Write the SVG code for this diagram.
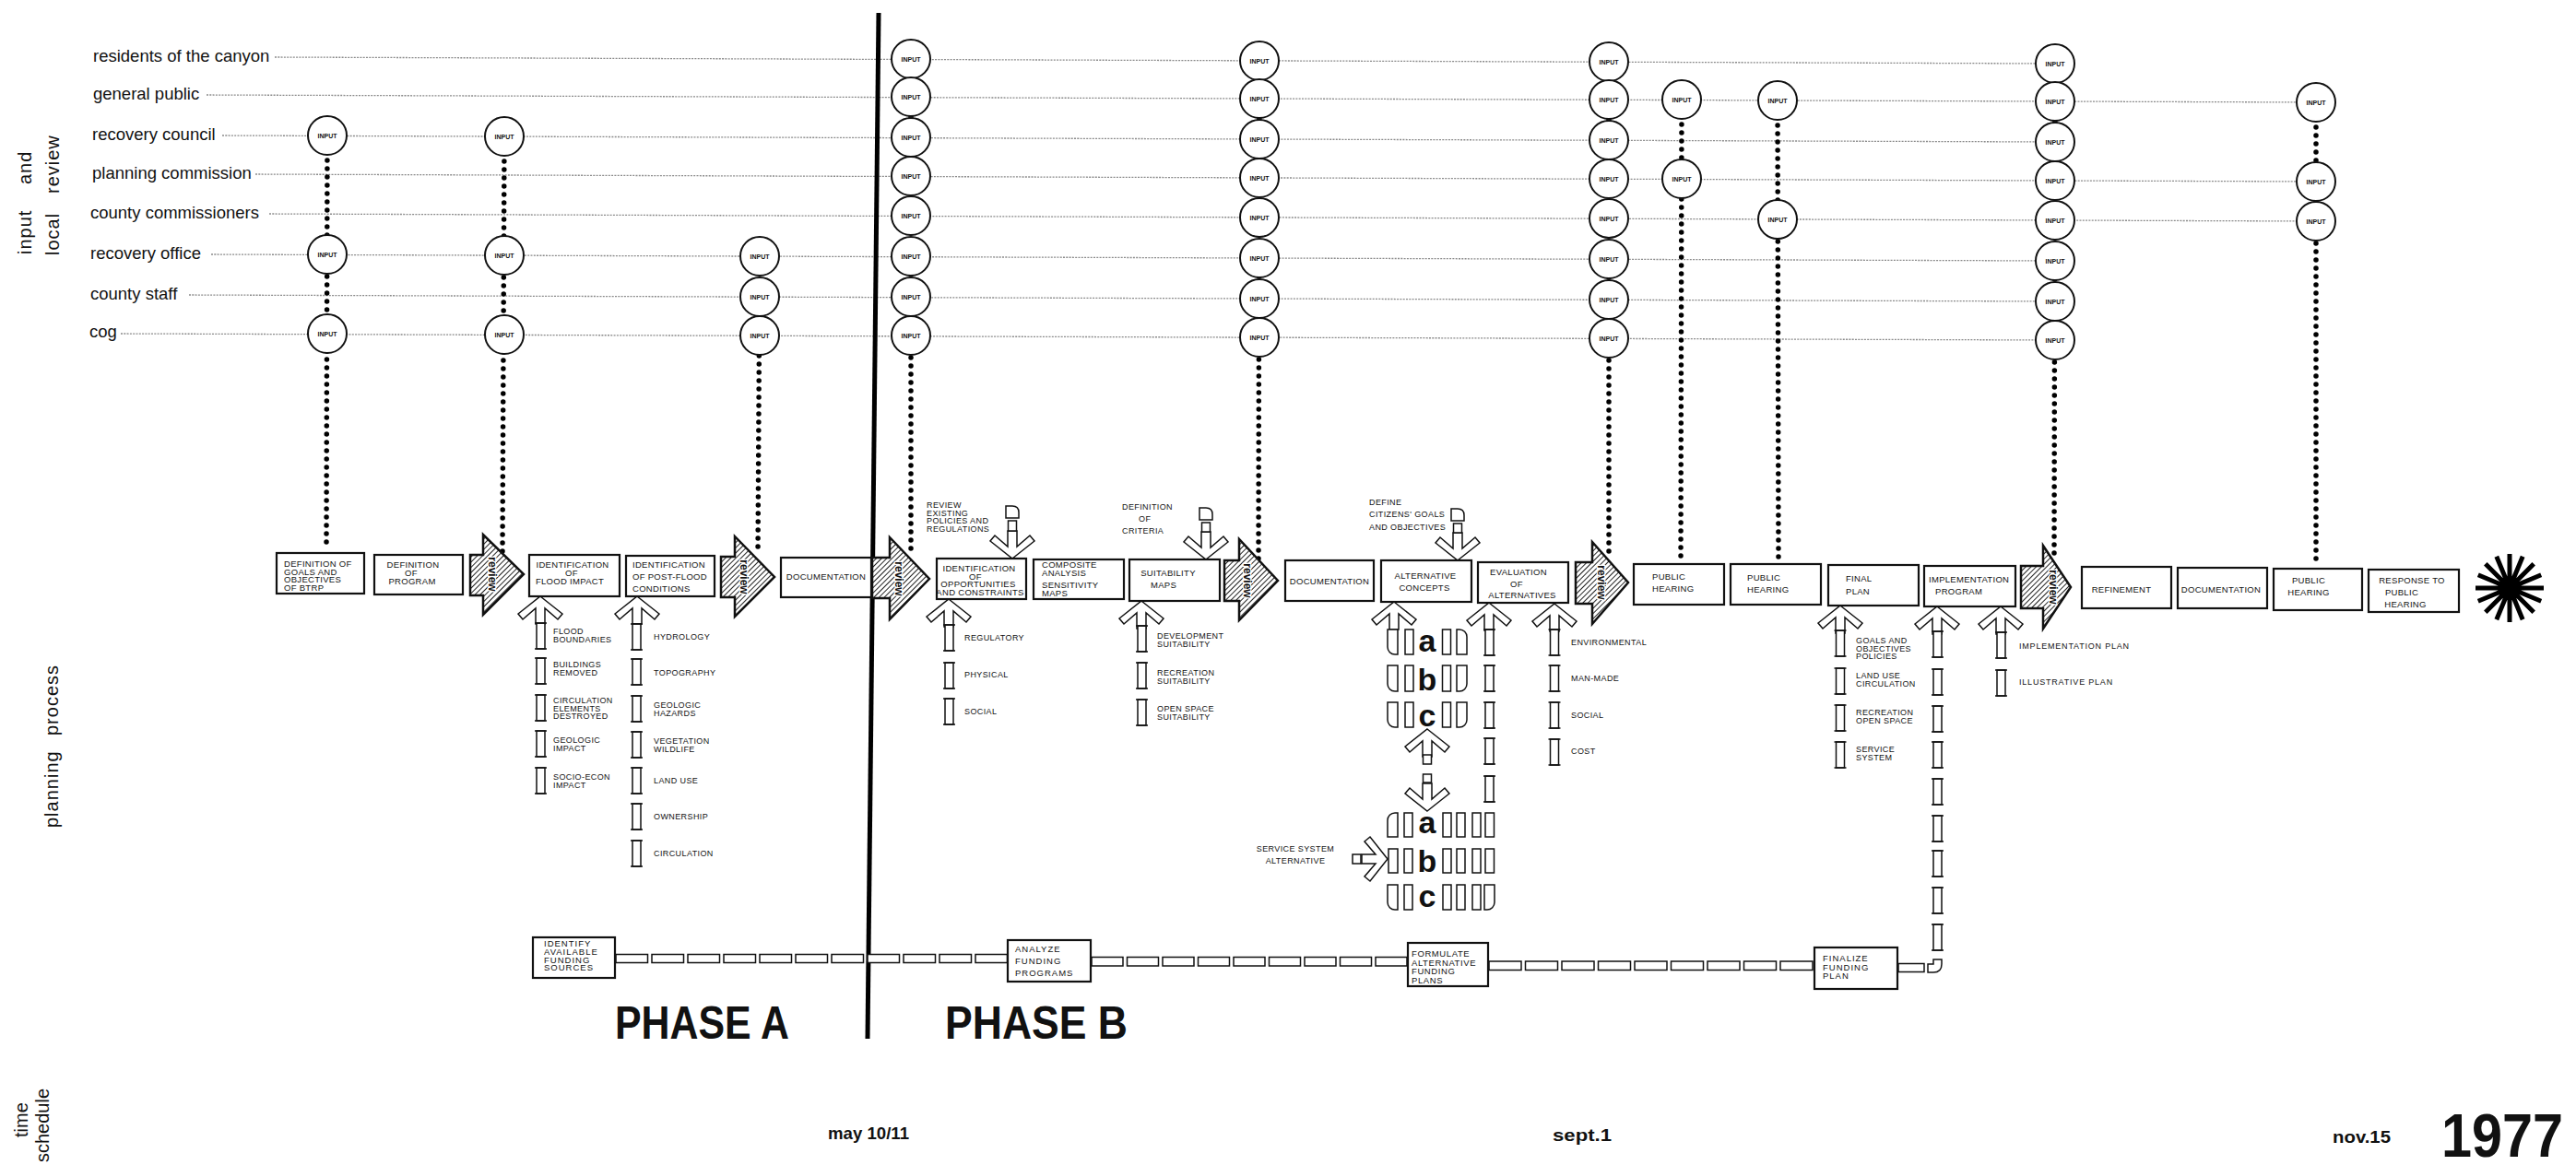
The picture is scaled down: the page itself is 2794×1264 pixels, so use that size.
<svg xmlns="http://www.w3.org/2000/svg" xmlns:xlink="http://www.w3.org/1999/xlink" width="2794" height="1264" viewBox="0 0 2794 1264">
<style>
text{font-family:"Liberation Sans",Arial,sans-serif;fill:#111}
.lbl{font-size:18.5px}
.side{font-size:20px;letter-spacing:1px}
.bt{font-size:9.5px;letter-spacing:.3px}
.it{font-size:9px;letter-spacing:.4px}
.ft{font-size:9.5px;letter-spacing:1px}
.inpt{font-size:7px;font-weight:bold;text-anchor:middle}
.mid{text-anchor:middle}
.box{fill:#fff;stroke:#111;stroke-width:2.2}
.rline{stroke:#8a8a8a;stroke-width:1.3;stroke-dasharray:2 1.3;fill:none}
.dots{stroke:#000;stroke-width:5.5;stroke-linecap:round;stroke-dasharray:0 9;fill:none}
.pipe{fill:#fff;stroke:#111;stroke-width:1.5}
.rev{fill:url(#hatch);stroke:#111;stroke-width:2.5}
.revt{font-size:12px;font-weight:bold;text-anchor:middle;dominant-baseline:central;paint-order:stroke;stroke:#fff;stroke-width:2.5px}
.abc{font-size:34px;font-weight:bold;text-anchor:middle}
.big{font-family:"Liberation Sans Narrow","Liberation Sans",Arial,sans-serif;font-weight:bold}
</style>
<defs>
<pattern id="hatch" width="4" height="4" patternUnits="userSpaceOnUse" patternTransform="rotate(45)"><rect width="4" height="4" fill="#fff"/><line x1="0" y1="0" x2="0" y2="4" stroke="#222" stroke-width="2"/></pattern>
<g id="inp"><circle r="21" fill="#fff" stroke="#111" stroke-width="2"/><text y="2.5" class="inpt">INPUT</text></g>
<polygon id="up" class="pipe" points="0,0 24,19 19,25 5,13 5,30 -5,30 -5,13 -19,25 -24,19"/>
<polygon id="dn" class="pipe" points="0,0 24,-19 19,-25 5,-13 5,-30 -5,-30 -5,-13 -19,-25 -24,-19"/>
<g id="bar"><rect x="-4.5" y="0" width="9" height="28" fill="#fff" stroke="#111" stroke-width="1.5"/><path d="M-6.5,0H6.5M-6.5,28H6.5" stroke="#111" stroke-width="1.5"/></g>
</defs>

<rect width="2794" height="1264" fill="#fff"/>

<!-- side labels -->
<g id="side-labels">
<text class="side" transform="translate(34,276) rotate(-90)"><tspan x="0">input</tspan><tspan x="76">and</tspan></text>
<text class="side" transform="translate(64,277) rotate(-90)"><tspan x="0">local</tspan><tspan x="67">review</tspan></text>
<text class="side" transform="translate(63,898) rotate(-90)"><tspan x="0">planning</tspan><tspan x="100">process</tspan></text>
<text class="side" style="letter-spacing:0" transform="translate(30,1234) rotate(-90)">time</text>
<text class="side" style="letter-spacing:0" transform="translate(53,1261) rotate(-90)">schedule</text>
</g>

<!-- participant rows -->
<g id="row-labels">
<text class="lbl" x="101" y="67">residents of the canyon</text>
<text class="lbl" x="101" y="108">general public</text>
<text class="lbl" x="100" y="152">recovery council</text>
<text class="lbl" x="100" y="194">planning commission</text>
<text class="lbl" x="98" y="237">county commissioners</text>
<text class="lbl" x="98" y="281">recovery office</text>
<text class="lbl" x="98" y="325">county staff</text>
<text class="lbl" x="97" y="366">cog</text>
</g>

<g id="connectors">
<g id="row-lines">
<line class="rline" x1="298" y1="62" x2="2229" y2="69"/>
<line class="rline" x1="224" y1="103" x2="2512" y2="111"/>
<line class="rline" x1="241" y1="147" x2="2229" y2="154"/>
<line class="rline" x1="277" y1="189" x2="2512" y2="197"/>
<line class="rline" x1="292" y1="232" x2="2512" y2="240"/>
<line class="rline" x1="229" y1="276" x2="2229" y2="283"/>
<line class="rline" x1="205" y1="320" x2="2229" y2="327"/>
<line class="rline" x1="131" y1="362" x2="2229" y2="369"/>
</g>
<g id="input-dots">
<line class="dots" x1="355" y1="147" x2="354" y2="594"/>
<line class="dots" x1="547" y1="148" x2="545" y2="598"/>
<line class="dots" x1="824" y1="278" x2="822" y2="601"/>
<line class="dots" x1="988" y1="64" x2="988" y2="604"/>
<line class="dots" x1="1366" y1="66" x2="1365" y2="606"/>
<line class="dots" x1="1745" y1="67" x2="1745" y2="606"/>
<line class="dots" x1="1824" y1="108" x2="1823" y2="610"/>
<line class="dots" x1="1928" y1="109" x2="1929" y2="610"/>
<line class="dots" x1="2229" y1="69" x2="2228" y2="604"/>
<line class="dots" x1="2512" y1="111" x2="2512" y2="615"/>
</g>
</g>

<g id="inputs">
<use id="in-1-3" href="#inp" x="355" y="147"/><use id="in-1-6" href="#inp" x="355" y="276"/><use id="in-1-8" href="#inp" x="355" y="362"/>
<use id="in-2-3" href="#inp" x="547" y="148"/><use id="in-2-6" href="#inp" x="547" y="277"/><use id="in-2-8" href="#inp" x="547" y="363"/>
<use id="in-3-6" href="#inp" x="824" y="278"/><use id="in-3-7" href="#inp" x="824" y="322"/><use id="in-3-8" href="#inp" x="824" y="364"/>
<use id="in-4-1" href="#inp" x="988" y="64"/><use id="in-4-2" href="#inp" x="988" y="105"/><use id="in-4-3" href="#inp" x="988" y="149"/><use id="in-4-4" href="#inp" x="988" y="191"/><use id="in-4-5" href="#inp" x="988" y="234"/><use id="in-4-6" href="#inp" x="988" y="278"/><use id="in-4-7" href="#inp" x="988" y="322"/><use id="in-4-8" href="#inp" x="988" y="364"/>
<use id="in-5-1" href="#inp" x="1366" y="66"/><use id="in-5-2" href="#inp" x="1366" y="107"/><use id="in-5-3" href="#inp" x="1366" y="151"/><use id="in-5-4" href="#inp" x="1366" y="193"/><use id="in-5-5" href="#inp" x="1366" y="236"/><use id="in-5-6" href="#inp" x="1366" y="280"/><use id="in-5-7" href="#inp" x="1366" y="324"/><use id="in-5-8" href="#inp" x="1366" y="366"/>
<use id="in-6-1" href="#inp" x="1745" y="67"/><use id="in-6-2" href="#inp" x="1745" y="108"/><use id="in-6-3" href="#inp" x="1745" y="152"/><use id="in-6-4" href="#inp" x="1745" y="194"/><use id="in-6-5" href="#inp" x="1745" y="237"/><use id="in-6-6" href="#inp" x="1745" y="281"/><use id="in-6-7" href="#inp" x="1745" y="325"/><use id="in-6-8" href="#inp" x="1745" y="367"/>
<use id="in-7-2" href="#inp" x="1824" y="108"/><use id="in-7-4" href="#inp" x="1824" y="194"/>
<use id="in-8-2" href="#inp" x="1928" y="109"/><use id="in-8-5" href="#inp" x="1928" y="238"/>
<use id="in-9-1" href="#inp" x="2229" y="69"/><use id="in-9-2" href="#inp" x="2229" y="110"/><use id="in-9-3" href="#inp" x="2229" y="154"/><use id="in-9-4" href="#inp" x="2229" y="196"/><use id="in-9-5" href="#inp" x="2229" y="239"/><use id="in-9-6" href="#inp" x="2229" y="283"/><use id="in-9-7" href="#inp" x="2229" y="327"/><use id="in-9-8" href="#inp" x="2229" y="369"/>
<use id="in-10-2" href="#inp" x="2512" y="111"/><use id="in-10-4" href="#inp" x="2512" y="197"/><use id="in-10-5" href="#inp" x="2512" y="240"/>
</g>

<!-- phase divider -->
<line id="phase-line" x1="953" y1="14" x2="941" y2="1127" stroke="#000" stroke-width="5"/>

<!-- input pipes / arrows -->
<g id="feeds">
<use href="#up" x="586" y="647"/><use href="#up" x="691" y="647"/><use href="#up" x="1029" y="650"/><use href="#up" x="1238" y="652"/>
<use href="#up" x="1512" y="653"/><use href="#up" x="1615" y="654"/><use href="#up" x="1686" y="655"/><use href="#up" x="1996" y="657"/>
<use href="#up" x="2101" y="658"/><use href="#up" x="2170" y="658"/>
<use href="#dn" x="1098" y="606"/><use href="#dn" x="1308" y="607"/><use href="#dn" x="1581" y="608"/>
<path class="pipe" d="M1091,562V549H1098Q1105,549 1105,556V562Z"/><rect class="pipe" x="1093.5" y="565" width="9" height="11"/>
<path class="pipe" d="M1301,564V551H1308Q1315,551 1315,558V564Z"/><rect class="pipe" x="1303.5" y="567" width="9" height="10"/>
<path class="pipe" d="M1574,565V552H1581Q1588,552 1588,559V565Z"/><rect class="pipe" x="1576.5" y="568" width="9" height="10"/>
<!-- flood impact -->
<use href="#bar" x="586.5" y="676"/><use href="#bar" x="586.5" y="714"/><use href="#bar" x="586.5" y="754"/><use href="#bar" x="586.5" y="793"/><use href="#bar" x="586.5" y="833"/>
<!-- post flood -->
<use href="#bar" x="690.5" y="677"/><use href="#bar" x="690.5" y="715"/><use href="#bar" x="690.5" y="755"/><use href="#bar" x="690.5" y="794"/><use href="#bar" x="690.5" y="833"/><use href="#bar" x="690.5" y="872"/><use href="#bar" x="690.5" y="912"/>
<!-- opportunities -->
<use href="#bar" x="1029.5" y="678"/><use href="#bar" x="1029.5" y="719"/><use href="#bar" x="1029.5" y="758"/>
<!-- suitability -->
<use href="#bar" x="1238.5" y="679"/><use href="#bar" x="1238.5" y="719"/><use href="#bar" x="1238.5" y="759"/>
<!-- evaluation column -->
<use href="#bar" x="1615.5" y="683"/><use href="#bar" x="1615.5" y="722"/><use href="#bar" x="1615.5" y="762"/><use href="#bar" x="1615.5" y="801"/><use href="#bar" x="1615.5" y="842"/>
<use href="#bar" x="1686" y="683"/><use href="#bar" x="1686" y="722"/><use href="#bar" x="1686" y="762"/><use href="#bar" x="1686" y="802"/>
<!-- final plan -->
<use href="#bar" x="1996" y="684"/><use href="#bar" x="1996" y="725"/><use href="#bar" x="1996" y="765"/><use href="#bar" x="1996" y="805"/>
<!-- implementation -->
<use href="#bar" x="2101.5" y="685"/><use href="#bar" x="2101.5" y="726"/><use href="#bar" x="2101.5" y="766"/><use href="#bar" x="2101.5" y="805"/><use href="#bar" x="2101.5" y="845"/><use href="#bar" x="2101.5" y="885"/><use href="#bar" x="2101.5" y="923"/><use href="#bar" x="2101.5" y="963"/><use href="#bar" x="2101.5" y="1003"/>
<use href="#bar" x="2170.5" y="686"/><use href="#bar" x="2170.5" y="727"/>
<!-- alternatives matrix 1 -->
<path class="pipe" d="M1516,683V710H1513A8,8 0 0 1 1505,702V683Z"/><rect class="pipe" x="1524" y="683" width="9" height="27"/><rect class="pipe" x="1564.5" y="683" width="9" height="27"/><path class="pipe" d="M1580,683H1583A8,8 0 0 1 1591,691V710H1580Z"/>
<path class="pipe" d="M1516,722V750H1513A8,8 0 0 1 1505,742V722Z"/><rect class="pipe" x="1524" y="722" width="9" height="28"/><rect class="pipe" x="1564.5" y="722" width="9" height="28"/><path class="pipe" d="M1580,722H1591V742A8,8 0 0 1 1583,750H1580Z"/>
<path class="pipe" d="M1516,762V789H1513A8,8 0 0 1 1505,781V762Z"/><rect class="pipe" x="1524" y="762" width="9" height="27"/><rect class="pipe" x="1564.5" y="762" width="9" height="27"/><path class="pipe" d="M1580,762H1591V781A8,8 0 0 1 1583,789H1580Z"/>
<use href="#up" x="1548" y="791"/>
<rect class="pipe" x="1543.5" y="819" width="9" height="10"/><rect class="pipe" x="1543.5" y="840" width="9" height="9"/>
<use href="#dn" x="1548" y="880"/>
<!-- alternatives matrix 2 -->
<path class="pipe" d="M1505,890A8,8 0 0 1 1513,882H1516V908H1505Z"/><rect class="pipe" x="1523" y="882" width="9" height="26"/><rect class="pipe" x="1565" y="882" width="9" height="26"/><rect class="pipe" x="1580" y="882" width="9" height="26"/><rect class="pipe" x="1597" y="882" width="9" height="26"/><rect class="pipe" x="1611" y="882" width="9.5" height="26"/>
<rect class="pipe" x="1506" y="921" width="10" height="26"/><rect class="pipe" x="1523" y="921" width="9" height="26"/><rect class="pipe" x="1565" y="921" width="9" height="26"/><rect class="pipe" x="1580" y="921" width="9" height="26"/><rect class="pipe" x="1597" y="921" width="9" height="26"/><rect class="pipe" x="1611" y="921" width="9.5" height="26"/>
<path class="pipe" d="M1516,960V987H1513A8,8 0 0 1 1505,979V960Z"/><rect class="pipe" x="1523" y="960" width="9" height="27"/><rect class="pipe" x="1565" y="960" width="9" height="27"/><rect class="pipe" x="1580" y="960" width="9" height="27"/><rect class="pipe" x="1597" y="960" width="9" height="27"/><path class="pipe" d="M1610,960H1621V979A8,8 0 0 1 1613,987H1610Z"/>
<!-- service system arrow -->
<rect class="pipe" x="1467" y="927" width="9" height="10"/>
<polygon class="pipe" points="1505,932 1486,908 1480,913 1492,927 1477,927 1477,937 1492,937 1480,951 1486,956"/>
<!-- funding pipe -->
<rect class="pipe" x="668" y="1035.5" width="34.5" height="9"/><rect class="pipe" x="707" y="1035.5" width="34.5" height="9"/><rect class="pipe" x="746" y="1035.5" width="34.5" height="9"/><rect class="pipe" x="785" y="1035.5" width="34.5" height="9"/><rect class="pipe" x="824" y="1035.5" width="34.5" height="9"/><rect class="pipe" x="863" y="1035.5" width="34.5" height="9"/><rect class="pipe" x="902" y="1035.5" width="34.5" height="9"/><rect class="pipe" x="941" y="1035.5" width="34.5" height="9"/><rect class="pipe" x="980" y="1035.5" width="34.5" height="9"/><rect class="pipe" x="1019" y="1035.5" width="34.5" height="9"/><rect class="pipe" x="1058" y="1035.5" width="34.5" height="9"/>
<rect class="pipe" x="1184" y="1038.5" width="34" height="9.5"/><rect class="pipe" x="1222.5" y="1038.5" width="34" height="9.5"/><rect class="pipe" x="1261" y="1038.5" width="34" height="9.5"/><rect class="pipe" x="1299.5" y="1038.5" width="34" height="9.5"/><rect class="pipe" x="1338" y="1038.5" width="34" height="9.5"/><rect class="pipe" x="1376.5" y="1038.5" width="34" height="9.5"/><rect class="pipe" x="1415" y="1038.5" width="34" height="9.5"/><rect class="pipe" x="1453.5" y="1038.5" width="34" height="9.5"/><rect class="pipe" x="1492" y="1038.5" width="34" height="9.5"/>
<rect class="pipe" x="1615" y="1043" width="35" height="9.5"/><rect class="pipe" x="1654.5" y="1043" width="35" height="9.5"/><rect class="pipe" x="1694" y="1043" width="35" height="9.5"/><rect class="pipe" x="1733.5" y="1043" width="35" height="9.5"/><rect class="pipe" x="1773" y="1043" width="35" height="9.5"/><rect class="pipe" x="1812.5" y="1043" width="35" height="9.5"/><rect class="pipe" x="1852" y="1043" width="35" height="9.5"/><rect class="pipe" x="1891.5" y="1043" width="35" height="9.5"/><rect class="pipe" x="1931" y="1043" width="35" height="9.5"/>
<rect class="pipe" x="2059" y="1045.5" width="28" height="9"/>
<path class="pipe" d="M2097,1041H2106V1046Q2106,1055 2097,1055H2091V1046H2097Z"/>
</g>

<!-- review arrows -->
<g id="review-1"><polygon class="rev" points="510,602 524,602 524,580 568,623 524,667 524,646 510,646"/><text class="revt" transform="translate(534,623) rotate(90)">review</text></g>
<g id="review-2"><polygon class="rev" points="782,604 797,604 797,582 840,626 797,669 797,648 782,648"/><text class="revt" transform="translate(807,626) rotate(90)">review</text></g>
<g id="review-3"><polygon class="rev" points="946,605 965,605 965,583 1008,628 965,672 965,649 946,649"/><text class="revt" transform="translate(975,628) rotate(90)">review</text></g>
<g id="review-4"><polygon class="rev" points="1328,608 1344,608 1344,585 1386,630 1344,673 1344,652 1328,652"/><text class="revt" transform="translate(1353,630) rotate(90)">review</text></g>
<g id="review-5"><polygon class="rev" points="1709,610 1727,610 1727,588 1766,632 1727,677 1727,655 1709,655"/><text class="revt" transform="translate(1737,632) rotate(90)">review</text></g>
<g id="review-6"><polygon class="rev" points="2192,614 2216,614 2216,592 2246,637 2216,682 2216,660 2192,660"/><text class="revt" transform="translate(2227,637) rotate(90)">review</text></g>

<!-- process boxes -->
<g id="b1"><rect class="box" x="300" y="600" width="95" height="44"/><text class="bt" x="308" y="615">DEFINITION OF<tspan x="308" dy="8.5">GOALS AND</tspan><tspan x="308" dy="8.5">OBJECTIVES</tspan><tspan x="308" dy="8.5">OF BTRP</tspan></text></g>
<g id="b2"><rect class="box" x="406" y="602" width="96" height="43"/><text class="bt mid" x="448" y="616">DEFINITION<tspan x="446" dy="9">OF</tspan><tspan x="447" dy="9">PROGRAM</tspan></text></g>
<g id="b3"><rect class="box" x="574" y="602" width="98" height="45"/><text class="bt mid" x="621" y="616">IDENTIFICATION<tspan x="620" dy="9">OF</tspan><tspan x="618" dy="9">FLOOD IMPACT</tspan></text></g>
<g id="b4"><rect class="box" x="679" y="603" width="96" height="44"/><text class="bt" x="686" y="616">IDENTIFICATION<tspan x="686" dy="13">OF POST-FLOOD</tspan><tspan x="686" dy="13">CONDITIONS</tspan></text></g>
<g id="b5"><rect class="box" x="847" y="605" width="98" height="43"/><text class="bt mid" x="896" y="629">DOCUMENTATION</text></g>
<g id="b6"><rect class="box" x="1016" y="606" width="97" height="44"/><text class="bt mid" x="1062" y="620">IDENTIFICATION<tspan x="1058" dy="8.7">OF</tspan><tspan x="1061" dy="8.7">OPPORTUNITIES</tspan><tspan x="1063" dy="8.7">AND CONSTRAINTS</tspan></text></g>
<g id="b7"><rect class="box" x="1121" y="607" width="98" height="43"/><text class="bt" x="1130" y="616">COMPOSITE<tspan x="1130" dy="8.5">ANALYSIS</tspan><tspan x="1130" dy="13.5">SENSITIVITY</tspan><tspan x="1130" dy="8.5">MAPS</tspan></text></g>
<g id="b8"><rect class="box" x="1225" y="607" width="98" height="45"/><text class="bt mid" x="1267" y="625">SUITABILITY<tspan x="1262" dy="13">MAPS</tspan></text></g>
<g id="b9"><rect class="box" x="1394" y="608" width="96" height="44"/><text class="bt mid" x="1442" y="634">DOCUMENTATION</text></g>
<g id="b10"><rect class="box" x="1498" y="608" width="98" height="45"/><text class="bt mid" x="1546" y="628">ALTERNATIVE<tspan x="1545" dy="13">CONCEPTS</tspan></text></g>
<g id="b11"><rect class="box" x="1603" y="610" width="98" height="44"/><text class="bt mid" x="1647" y="624">EVALUATION<tspan x="1645" dy="12.5">OF</tspan><tspan x="1651" dy="12.5">ALTERNATIVES</tspan></text></g>
<g id="b12"><rect class="box" x="1772" y="612" width="98" height="44"/><text class="bt" x="1792" y="629">PUBLIC<tspan x="1792" dy="13">HEARING</tspan></text></g>
<g id="b13"><rect class="box" x="1877" y="612" width="98" height="44"/><text class="bt" x="1895" y="630">PUBLIC<tspan x="1895" dy="13">HEARING</tspan></text></g>
<g id="b14"><rect class="box" x="1983" y="613" width="98" height="44"/><text class="bt" x="2002" y="631">FINAL<tspan x="2002" dy="14">PLAN</tspan></text></g>
<g id="b15"><rect class="box" x="2087" y="614" width="99" height="44"/><text class="bt" x="2092" y="632">IMPLEMENTATION<tspan x="2099" dy="13">PROGRAM</tspan></text></g>
<g id="b16"><rect class="box" x="2258" y="615" width="97" height="45"/><text class="bt mid" x="2301" y="643">REFINEMENT</text></g>
<g id="b17"><rect class="box" x="2362" y="616" width="97" height="44"/><text class="bt mid" x="2409" y="643">DOCUMENTATION</text></g>
<g id="b18"><rect class="box" x="2466" y="617" width="96" height="45"/><text class="bt mid" x="2504" y="633">PUBLIC<tspan x="2504" dy="13">HEARING</tspan></text></g>
<g id="b19"><rect class="box" x="2569" y="618" width="98" height="46"/><text class="bt mid" x="2616" y="633">RESPONSE TO<tspan x="2605" dy="13">PUBLIC</tspan><tspan x="2609" dy="13">HEARING</tspan></text></g>
<g id="end-star"><path d="M2685,638L2759,638M2687.8,623.8L2756.2,652.2M2695.8,611.8L2748.2,664.2M2707.8,603.8L2736.2,672.2M2722,601L2722,675M2736.2,603.8L2707.8,672.2M2748.2,611.8L2695.8,664.2M2756.2,623.8L2687.8,652.2" stroke="#000" stroke-width="5"/><circle cx="2722" cy="638" r="8" fill="#000"/></g>

<!-- funding boxes -->
<g id="f1"><rect class="box" x="578" y="1017" width="89" height="44"/><text class="ft" x="590" y="1027">IDENTIFY<tspan x="590" dy="8.8">AVAILABLE</tspan><tspan x="590" dy="8.8">FUNDING</tspan><tspan x="590" dy="8.8">SOURCES</tspan></text></g>
<g id="f2"><rect class="box" x="1093" y="1020" width="90" height="45"/><text class="ft" x="1101" y="1033">ANALYZE<tspan x="1101" dy="13">FUNDING</tspan><tspan x="1101" dy="13">PROGRAMS</tspan></text></g>
<g id="f3"><rect class="box" x="1527" y="1023" width="87" height="47"/><text class="ft" style="letter-spacing:.6px" x="1531" y="1038">FORMULATE<tspan x="1531" dy="9.5">ALTERNATIVE</tspan><tspan x="1531" dy="9.5">FUNDING</tspan><tspan x="1531" dy="9.5">PLANS</tspan></text></g>
<g id="f4"><rect class="box" x="1968" y="1028" width="90" height="45"/><text class="ft" x="1977" y="1043">FINALIZE<tspan x="1977" dy="9.5">FUNDING</tspan><tspan x="1977" dy="9.5">PLAN</tspan></text></g>

<!-- input item labels -->
<g id="items">
<text class="it" x="600" y="688">FLOOD<tspan x="600" dy="9">BOUNDARIES</tspan></text>
<text class="it" x="600" y="724">BUILDINGS<tspan x="600" dy="8.5">REMOVED</tspan></text>
<text class="it" x="600" y="763">CIRCULATION<tspan x="600" dy="8.5">ELEMENTS</tspan><tspan x="600" dy="8.5">DESTROYED</tspan></text>
<text class="it" x="600" y="806">GEOLOGIC<tspan x="600" dy="9">IMPACT</tspan></text>
<text class="it" x="600" y="846">SOCIO-ECON<tspan x="600" dy="8.5">IMPACT</tspan></text>
<text class="it" x="709" y="694">HYDROLOGY</text>
<text class="it" x="709" y="733">TOPOGRAPHY</text>
<text class="it" x="709" y="768">GEOLOGIC<tspan x="709" dy="8.5">HAZARDS</tspan></text>
<text class="it" x="709" y="807">VEGETATION<tspan x="709" dy="8.5">WILDLIFE</tspan></text>
<text class="it" x="709" y="850">LAND USE</text>
<text class="it" x="709" y="889">OWNERSHIP</text>
<text class="it" x="709" y="929">CIRCULATION</text>
<text class="it" x="1005" y="551">REVIEW<tspan x="1005" dy="8.7">EXISTING</tspan><tspan x="1005" dy="8.7">POLICIES AND</tspan><tspan x="1005" dy="8.7">REGULATIONS</tspan></text>
<text class="it" x="1046" y="695">REGULATORY</text>
<text class="it" x="1046" y="735">PHYSICAL</text>
<text class="it" x="1046" y="775">SOCIAL</text>
<text class="it" x="1217" y="553">DEFINITION<tspan x="1235" dy="13">OF</tspan><tspan x="1217" dy="13">CRITERIA</tspan></text>
<text class="it" x="1255" y="693">DEVELOPMENT<tspan x="1255" dy="8.5">SUITABILITY</tspan></text>
<text class="it" x="1255" y="733">RECREATION<tspan x="1255" dy="8.5">SUITABILITY</tspan></text>
<text class="it" x="1255" y="772">OPEN SPACE<tspan x="1255" dy="8.5">SUITABILITY</tspan></text>
<text class="it" x="1485" y="548">DEFINE<tspan x="1485" dy="13">CITIZENS' GOALS</tspan><tspan x="1485" dy="14">AND OBJECTIVES</tspan></text>
<text class="abc" x="1548" y="707">a</text><text class="abc" x="1548" y="749">b</text><text class="abc" x="1548" y="788">c</text>
<text class="abc" x="1548" y="904">a</text><text class="abc" x="1548" y="946">b</text><text class="abc" x="1548" y="984">c</text>
<text class="it mid" x="1405" y="924">SERVICE SYSTEM<tspan x="1405" dy="13">ALTERNATIVE</tspan></text>
<text class="it" x="1704" y="700">ENVIRONMENTAL</text>
<text class="it" x="1704" y="739">MAN-MADE</text>
<text class="it" x="1704" y="779">SOCIAL</text>
<text class="it" x="1704" y="818">COST</text>
<text class="it" x="2013" y="698">GOALS AND<tspan x="2013" dy="8.5">OBJECTIVES</tspan><tspan x="2013" dy="8.5">POLICIES</tspan></text>
<text class="it" x="2013" y="736">LAND USE<tspan x="2013" dy="9">CIRCULATION</tspan></text>
<text class="it" x="2013" y="776">RECREATION<tspan x="2013" dy="9">OPEN SPACE</tspan></text>
<text class="it" x="2013" y="816">SERVICE<tspan x="2013" dy="9">SYSTEM</tspan></text>
<text class="it" style="letter-spacing:.8px" x="2190" y="704">IMPLEMENTATION PLAN</text>
<text class="it" style="letter-spacing:.8px" x="2190" y="743">ILLUSTRATIVE PLAN</text>
</g>

<!-- phases & schedule -->
<g id="phases">
<text class="big" x="667" y="1127" font-size="50" textLength="189" lengthAdjust="spacingAndGlyphs">PHASE A</text>
<text class="big" x="1025" y="1127" font-size="50" textLength="198" lengthAdjust="spacingAndGlyphs">PHASE B</text>
</g>
<g id="schedule">
<text class="big" x="898" y="1236" font-size="19" textLength="88" lengthAdjust="spacingAndGlyphs">may 10/11</text>
<text class="big" x="1684" y="1238" font-size="19" textLength="64" lengthAdjust="spacingAndGlyphs">sept.1</text>
<text class="big" x="2530" y="1240" font-size="19" textLength="63" lengthAdjust="spacingAndGlyphs">nov.15</text>
<text class="big" x="2648" y="1255" font-size="66" textLength="132" lengthAdjust="spacingAndGlyphs">1977</text>
</g>
</svg>
